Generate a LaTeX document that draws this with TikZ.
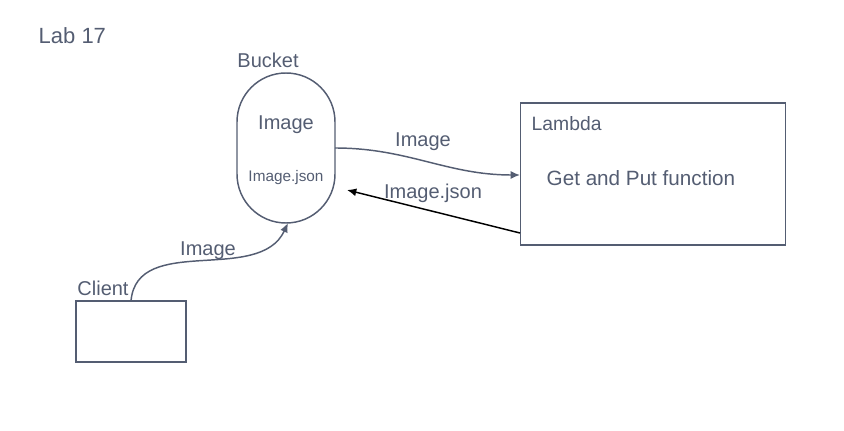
\documentclass[tikz,border=0pt]{standalone}
\usepackage{fontspec}
\setmainfont{Liberation Sans}
\usetikzlibrary{arrows,arrows.meta}
\definecolor{inkgray}{RGB}{84,93,114}
\tikzset{>=latex}

\begin{document}
\begin{tikzpicture}[x=0.75pt,y=-0.75pt,
        every node/.style={text=inkgray},
        box/.style={draw=inkgray,line width=1.1pt,rectangle,inner sep=0pt},
        flow/.style={draw=inkgray,line width=1.1pt,-{Latex[length=7pt,width=6pt]}}]
        \useasboundingbox (0,0) rectangle (844,431);
        \node[anchor=west,font=\fontsize{16.5}{19}\selectfont] (title) at (34,36) {Lab 17};
        % bucket
        \node[box,minimum width=73.5pt,minimum height=112.5pt,rounded corners=36.7pt]
          (bucket) at (286,148) {};
        \node[font=\fontsize{15}{17}\selectfont] (bucketlbl) at (268,60) {Bucket};
        \node[font=\fontsize{15}{17}\selectfont] (img) at (286,125) {Image};
        \node[font=\fontsize{11.5}{13}\selectfont] (json) at (286,178) {Image.json};
        % lambda
        \node[box,minimum width=199pt,minimum height=106.5pt] (lambda) at (653,174) {};
        \node[anchor=west,font=\fontsize{14.5}{17}\selectfont] (lambdalbl) at (527,124) {Lambda};
        \node[anchor=west,font=\fontsize{15.5}{18}\selectfont] (fn) at (542,178) {Get and Put function};
        % client
        \node[box,minimum width=82.5pt,minimum height=45.75pt] (client) at (131,331.5) {};
        \node[font=\fontsize{15}{17}\selectfont] (clientlbl) at (103,288) {Client};
        % connectors
        \coordinate (bout) at (335,148);
        \coordinate (lin) at (520,175);
        \coordinate (lout) at (520,233);
        \coordinate (bin) at (347,190);
        \coordinate (cout) at (131,301);
        \coordinate (bbot) at (288,223);
        \draw[flow] (bout) to[out=0,in=180] (lin);
        \draw[black,line width=1.1pt,-{Latex[length=7pt,width=6pt]}] (lout) -- (bin);
        \draw[flow] (cout) to[out=85,in=-115] (bbot);
        \node[font=\fontsize{15}{17}\selectfont] (l1) at (423,142) {Image};
        \node[font=\fontsize{15}{17}\selectfont] (l2) at (433,193) {Image.json};
        \node[font=\fontsize{15}{17}\selectfont] (l3) at (208,251) {Image};
\end{tikzpicture}
\end{document}
